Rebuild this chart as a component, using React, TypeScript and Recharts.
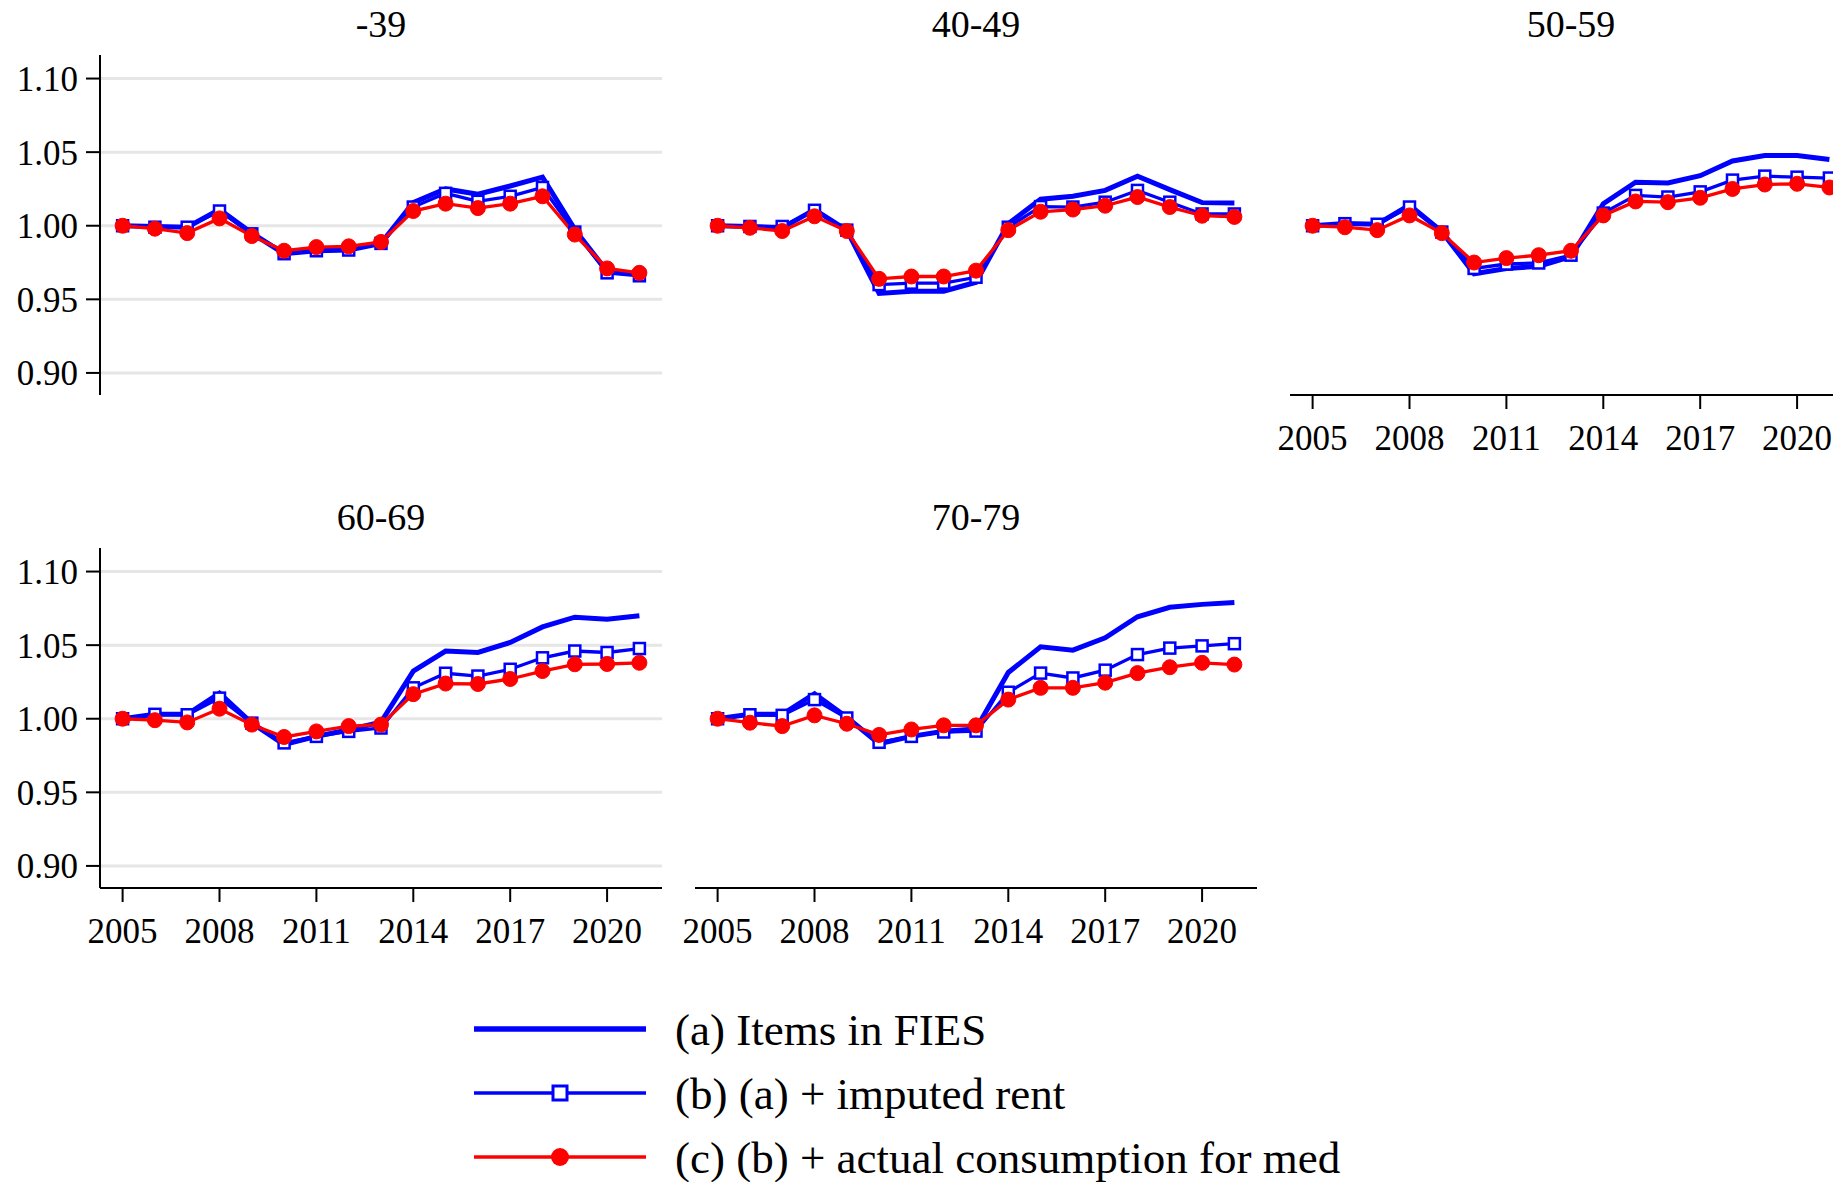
import React from 'react';
import { LineChart, Line, XAxis, YAxis, CartesianGrid } from 'recharts';

const FONT = '"Liberation Serif", "Times New Roman", serif';
const BLUE = '#0000ff';
const RED = '#ff0000';
const GRID = '#e6e6e6';

const YEARS = [2005, 2006, 2007, 2008, 2009, 2010, 2011, 2012, 2013, 2014, 2015, 2016, 2017, 2018, 2019, 2020, 2021];
const X_TICKS = [2005, 2008, 2011, 2014, 2017, 2020];
const Y_TICKS = [0.9, 0.95, 1.0, 1.05, 1.1];

// (a) Items in FIES / (b) + imputed rent / (c) + actual consumption for med
const age39A = [1.000, 0.9995, 0.999, 1.011, 0.995, 0.981, 0.983, 0.9835, 0.988, 1.0157, 1.025, 1.0214, 1.027, 1.033, 0.9975, 0.969, 0.967];
const age39B = [1.000, 0.999, 0.999, 1.010, 0.9945, 0.981, 0.983, 0.9835, 0.988, 1.0127, 1.022, 1.0166, 1.020, 1.026, 0.9957, 0.968, 0.966];
const age39C = [1.000, 0.998, 0.995, 1.005, 0.993, 0.983, 0.9855, 0.986, 0.989, 1.010, 1.015, 1.012, 1.015, 1.020, 0.994, 0.971, 0.968];

const age40A = [1.000, 0.9995, 0.9985, 1.011, 0.997, 0.954, 0.9555, 0.9555, 0.9616, 1.0014, 1.018, 1.020, 1.024, 1.0336, 1.0245, 1.0157, 1.0155];
const age40B = [1.000, 0.9995, 0.9995, 1.0105, 0.997, 0.960, 0.961, 0.961, 0.965, 0.999, 1.013, 1.0127, 1.016, 1.024, 1.016, 1.008, 1.008];
const age40C = [1.000, 0.9986, 0.9964, 1.0064, 0.9964, 0.9639, 0.9655, 0.9655, 0.9695, 0.997, 1.0095, 1.011, 1.0136, 1.0195, 1.0127, 1.0068, 1.006];

const age50A = [1.000, 1.0015, 1.001, 1.014, 0.996, 0.9674, 0.971, 0.9724, 0.979, 1.015, 1.0296, 1.029, 1.034, 1.044, 1.0477, 1.0477, 1.045];
const age50B = [1.000, 1.0014, 1.001, 1.0127, 0.9957, 0.971, 0.974, 0.9747, 0.980, 1.0086, 1.0206, 1.0195, 1.023, 1.031, 1.0337, 1.033, 1.0324];
const age50C = [1.000, 0.999, 0.997, 1.007, 0.995, 0.975, 0.978, 0.980, 0.983, 1.007, 1.0165, 1.016, 1.019, 1.025, 1.028, 1.0285, 1.026];

const age60A = [1.000, 1.003, 1.003, 1.0173, 0.997, 0.9824, 0.988, 0.9925, 0.9977, 1.0324, 1.046, 1.045, 1.0518, 1.0624, 1.069, 1.0676, 1.070];
const age60B = [1.000, 1.003, 1.0027, 1.014, 0.997, 0.9836, 0.988, 0.9914, 0.9937, 1.021, 1.0309, 1.029, 1.0336, 1.0414, 1.046, 1.045, 1.0477];
const age60C = [1.000, 0.999, 0.9975, 1.0068, 0.996, 0.9876, 0.9914, 0.995, 0.996, 1.0167, 1.0239, 1.0236, 1.027, 1.0324, 1.037, 1.0372, 1.038];

const age70A = [1.000, 1.003, 1.003, 1.017, 1.001, 0.983, 0.988, 0.9915, 0.993, 1.0314, 1.0489, 1.0466, 1.055, 1.0693, 1.0757, 1.0777, 1.079];
const age70B = [1.000, 1.0027, 1.0023, 1.013, 1.0005, 0.984, 0.988, 0.991, 0.9916, 1.018, 1.031, 1.0277, 1.033, 1.0436, 1.048, 1.0495, 1.051];
const age70C = [1.000, 0.9973, 0.995, 1.0023, 0.9966, 0.989, 0.9927, 0.9955, 0.9955, 1.013, 1.021, 1.021, 1.0245, 1.031, 1.035, 1.038, 1.0368];

const LEGEND_LABELS = [
  '(a) Items in FIES',
  '(b) (a) + imputed rent',
  '(c) (b) + actual consumption for med',
];

const PLOT_W = 562;
const PLOT_H = 340;
const Y_AXIS_W = 100;
const X_AXIS_H = 70;
const M_TOP = 10;
const M_RIGHT = 10;

const renderSquare = (props: any) => {
  const { cx, cy, index } = props;
  if (cx == null || cy == null) return <g key={`sq-${index}`} />;
  return (
    <rect key={`sq-${index}`} x={cx - 5.5} y={cy - 5.5} width={11} height={11}
      fill="#fff" stroke={BLUE} strokeWidth={2.5} />
  );
};

interface PanelProps {
  title: string;
  a: number[];
  b: number[];
  c: number[];
  left: number;
  top: number;
  showX: boolean;
  showY: boolean;
}

function Panel({ title, a, b, c, left, top, showX, showY }: PanelProps) {
  const data = YEARS.map((year, i) => ({ year, a: a[i], b: b[i], c: c[i] }));
  const axisLine = { stroke: '#000', strokeWidth: 2 };
  const tick = { fill: '#000', fontSize: 35, fontFamily: FONT };
  return (
    <>
      <div style={{
        position: 'absolute', left: left, top: top - 50, width: PLOT_W, textAlign: 'center',
        fontFamily: FONT, fontSize: 38, lineHeight: '38px', color: '#000',
      }}>
        {title}
      </div>
      <div style={{ position: 'absolute', left: left - Y_AXIS_W, top: top - M_TOP }}>
        <LineChart
          width={Y_AXIS_W + PLOT_W + M_RIGHT}
          height={M_TOP + PLOT_H + X_AXIS_H}
          data={data}
          margin={{ top: M_TOP, right: M_RIGHT, left: 0, bottom: 0 }}
        >
          <CartesianGrid vertical={false} horizontalValues={Y_TICKS} stroke={GRID} strokeWidth={3} />
          <XAxis
            dataKey="year" type="number" domain={[2004.3, 2021.7]} allowDataOverflow
            ticks={X_TICKS} interval={0} height={X_AXIS_H}
            tickSize={14} tickMargin={16}
            axisLine={showX ? axisLine : false}
            tickLine={showX ? axisLine : false}
            tick={showX ? tick : false}
          />
          <YAxis
            type="number" domain={[0.885, 1.116]} allowDataOverflow
            ticks={Y_TICKS} interval={0} width={Y_AXIS_W}
            tickSize={14} tickMargin={8}
            tickFormatter={(v: number) => v.toFixed(2)}
            axisLine={showY ? axisLine : false}
            tickLine={showY ? axisLine : false}
            tick={showY ? tick : false}
          />
          <Line dataKey="a" stroke={BLUE} strokeWidth={5} dot={false} isAnimationActive={false} />
          <Line dataKey="b" stroke={BLUE} strokeWidth={3.3} dot={renderSquare} isAnimationActive={false} />
          <Line dataKey="c" stroke={RED} strokeWidth={3.3}
            dot={{ r: 7.5, fill: RED, stroke: RED, strokeWidth: 1 }} isAnimationActive={false} />
        </LineChart>
      </div>
    </>
  );
}

function LegendBox() {
  const rows = [1029, 1093, 1157];
  return (
    <svg width={1833} height={1182} style={{ position: 'absolute', left: 0, top: 0, pointerEvents: 'none' }}>
      <line x1={474} x2={646} y1={rows[0]} y2={rows[0]} stroke={BLUE} strokeWidth={5.5} />
      <line x1={474} x2={646} y1={rows[1]} y2={rows[1]} stroke={BLUE} strokeWidth={3.5} />
      <rect x={560 - 7} y={rows[1] - 7} width={14} height={14} fill="#fff" stroke={BLUE} strokeWidth={3} />
      <line x1={474} x2={646} y1={rows[2]} y2={rows[2]} stroke={RED} strokeWidth={3.5} />
      <circle cx={560} cy={rows[2]} r={9} fill={RED} />
      {LEGEND_LABELS.map((label, i) => (
        <text key={label} x={675} y={rows[i]} dy="0.35em" fontFamily={FONT} fontSize={45} fill="#000">
          {label}
        </text>
      ))}
    </svg>
  );
}

export default function App() {
  const cols = [100, 695, 1290];
  const rows = [55, 548];
  return (
    <div style={{
      position: 'absolute', left: 0, top: 0, width: 1833, height: 1182,
      overflow: 'hidden', background: '#fff',
    }}>
      <Panel title="-39" a={age39A} b={age39B} c={age39C} left={cols[0]} top={rows[0]} showX={false} showY={true} />
      <Panel title="40-49" a={age40A} b={age40B} c={age40C} left={cols[1]} top={rows[0]} showX={false} showY={false} />
      <Panel title="50-59" a={age50A} b={age50B} c={age50C} left={cols[2]} top={rows[0]} showX={true} showY={false} />
      <Panel title="60-69" a={age60A} b={age60B} c={age60C} left={cols[0]} top={rows[1]} showX={true} showY={true} />
      <Panel title="70-79" a={age70A} b={age70B} c={age70C} left={cols[1]} top={rows[1]} showX={true} showY={false} />
      <LegendBox />
    </div>
  );
}
